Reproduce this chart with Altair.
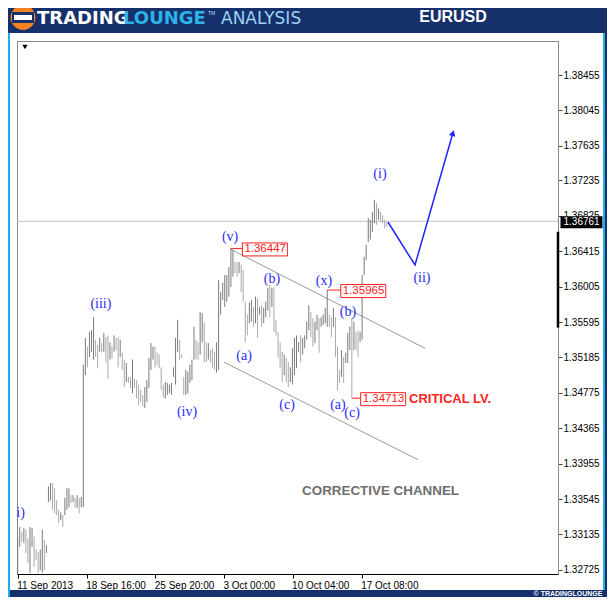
import json
import altair as alt
import pandas as pd

# ---------------- values (EURUSD, H4 bars) ----------------
high_a = [1.3311, 1.3322, 1.3316, 1.3321, 1.3319, 1.3309, 1.3322, 1.3321, 1.3311, 1.3296,
          1.3293, 1.3296, 1.3319, 1.3307, 1.3301]
low_a = [1.3269, 1.3299, 1.3305, 1.3304, 1.3292, 1.3280, 1.3269, 1.3299, 1.3276, 1.3284,
         1.3269, 1.3272, 1.3269, 1.3272, 1.3292]

high_b = [1.3369, 1.3373, 1.3373, 1.3367, 1.3353, 1.3342, 1.3339, 1.3336, 1.3356, 1.3367,
          1.3367, 1.3359, 1.3359, 1.3356, 1.3359, 1.3356, 1.3357, 1.3510]
low_b = [1.3351, 1.3353, 1.3342, 1.3338, 1.3336, 1.3327, 1.3330, 1.3322, 1.3336, 1.3342,
         1.3345, 1.3350, 1.3351, 1.3345, 1.3344, 1.3338, 1.3345, 1.3345]

high_c = [1.3541, 1.3531, 1.3548, 1.3550, 1.3565, 1.3539, 1.3533, 1.3541, 1.3535, 1.3547,
          1.3542, 1.3544, 1.3536, 1.3531, 1.3544, 1.3541, 1.3542, 1.3539, 1.3524, 1.3516,
          1.3512, 1.3496, 1.3496, 1.3516, 1.3494, 1.3492, 1.3487, 1.3481, 1.3475, 1.3484,
          1.3492, 1.3518, 1.3535, 1.3531, 1.3531, 1.3524, 1.3522, 1.3507, 1.3487, 1.3490,
          1.3489, 1.3487, 1.3489, 1.3507, 1.3541, 1.3562, 1.3539, 1.3522, 1.3496, 1.3504,
          1.3502, 1.3510, 1.3516, 1.3554, 1.3539, 1.3536, 1.3571, 1.3570, 1.3559, 1.3536,
          1.3535, 1.3527, 1.3529, 1.3525, 1.3536, 1.3608]
low_c = [1.3498, 1.3507, 1.3519, 1.3525, 1.3516, 1.3519, 1.3506, 1.3525, 1.3524, 1.3525,
         1.3513, 1.3494, 1.3516, 1.3517, 1.3525, 1.3527, 1.3507, 1.3519, 1.3504, 1.3484,
         1.3490, 1.3489, 1.3483, 1.3477, 1.3483, 1.3471, 1.3463, 1.3467, 1.3462, 1.3460,
         1.3467, 1.3483, 1.3504, 1.3516, 1.3507, 1.3510, 1.3506, 1.3481, 1.3472, 1.3471,
         1.3475, 1.3477, 1.3475, 1.3496, 1.3487, 1.3525, 1.3516, 1.3518, 1.3475, 1.3475,
         1.3477, 1.3489, 1.3492, 1.3516, 1.3516, 1.3516, 1.3522, 1.3536, 1.3513, 1.3513,
         1.3516, 1.3512, 1.3506, 1.3504, 1.3501, 1.3504]

high_d = [1.3594, 1.3605, 1.3614, 1.3614, 1.3623, 1.36447, 1.3643, 1.3629, 1.3629, 1.3629,
          1.3626, 1.3620, 1.3583, 1.3568, 1.3582, 1.3585, 1.3577, 1.3589, 1.3587, 1.3577,
          1.3579, 1.3576, 1.3583, 1.3599, 1.3602, 1.3599, 1.3600, 1.3562, 1.3548, 1.3536,
          1.3525, 1.3522, 1.3518, 1.3513, 1.3507, 1.3529, 1.3541, 1.3544, 1.3536, 1.3544,
          1.3541, 1.3544]
low_d = [1.3568, 1.3585, 1.3577, 1.3583, 1.3589, 1.3600, 1.3612, 1.3616, 1.3612, 1.3616,
         1.3594, 1.3583, 1.3536, 1.3544, 1.3558, 1.3560, 1.3554, 1.3558, 1.3541, 1.3568,
         1.3554, 1.3558, 1.3565, 1.3573, 1.3565, 1.3577, 1.3548, 1.3544, 1.3518, 1.3506,
         1.3490, 1.3498, 1.3490, 1.3484, 1.3490, 1.3487, 1.3498, 1.3506, 1.3525, 1.3513,
         1.3522, 1.3529]

high_e = [1.3560, 1.3579, 1.3571, 1.3564, 1.3560, 1.3568, 1.3564, 1.3565, 1.3568, 1.3576,
          1.35965, 1.3568, 1.3565, 1.3576, 1.3565, 1.3531, 1.3504, 1.3527, 1.3519, 1.3524,
          1.3547, 1.3554, 1.3564, 1.3560, 1.3548, 1.3550, 1.3548, 1.3614, 1.3635, 1.3649,
          1.3680, 1.3678, 1.3687, 1.3701, 1.3697, 1.3691, 1.3687, 1.3683, 1.3678, 1.3675]
low_e = [1.3539, 1.3550, 1.3542, 1.3531, 1.3535, 1.3550, 1.3524, 1.3554, 1.3556, 1.3558,
         1.3554, 1.3554, 1.3542, 1.3554, 1.3519, 1.3480, 1.3489, 1.3496, 1.3489, 1.3512,
         1.3512, 1.3527, 1.34713, 1.3527, 1.3527, 1.3519, 1.3536, 1.3539, 1.3614, 1.3631,
         1.3652, 1.3655, 1.3664, 1.3674, 1.3672, 1.3678, 1.3675, 1.3674, 1.3668, 1.3670]

x_tick_pos = [0, 33.7, 67.1, 100.6, 134.1, 167.8]
x_tick_text = ["11 Sep 2013", "18 Sep 16:00", "25 Sep 20:00", "3 Oct 00:00", "10 Oct 04:00", "17 Oct 08:00"]
y_tick_values = [1.32725, 1.33135, 1.33545, 1.33955, 1.34365, 1.34775, 1.35185, 1.35595,
                 1.36005, 1.36415, 1.36825, 1.37235, 1.37635, 1.38045, 1.38455]
last_price = 1.36761
marker_top, marker_bottom = 1.3664, 1.3553

wave_text = ["(i)", "(iii)", "(iv)", "(v)", "(a)", "(b)", "(c)", "(x)", "(b)", "(a)", "(c)", "(i)", "(ii)"]
wave_bar = [0.3, 40.6, 82.6, 103.6, 110.4, 124.0, 131.4, 149.4, 161.1, 156.2, 163.1, 176.7, 197.2]
wave_price = [1.3338, 1.3580, 1.3455, 1.3658, 1.3520, 1.3609, 1.3463, 1.3607, 1.3571, 1.3463,
              1.3454, 1.3731, 1.3610]

tag_price = [1.36447, 1.35965, 1.34713]
tag_bar = [104, 151, 163]
tag_box_bar = [109.6, 157.6, 167.3]

channel_bar_start = [103.6, 100.6]
channel_price_start = [1.3644, 1.3513]
channel_bar_end = [198.7, 195.3]
channel_price_end = [1.3529, 1.3400]

proj_bar = [180.6, 193.8, 212.3]
proj_price = [1.36753, 1.36255, 1.37783]

note_text = ["CRITICAL LV.", "CORRECTIVE CHANNEL"]
note_bar = [190.9, 177.0]
note_price = [1.3470, 1.3364]

# ---------------- layout ----------------
PLOT_W, PLOT_H = 541, 533
X_DOMAIN = [-0.34, 263.56]
Y_DOMAIN = [1.32677, 1.38849]
NAVY = "#15306b"
CYAN = "#22aee6"

highs = high_a + high_b + high_c + high_d + high_e
lows = low_a + low_b + low_c + low_d + low_e
bars_df = pd.DataFrame({"i": list(range(len(highs))), "high": highs, "low": lows})
mid = (bars_df["high"] + bars_df["low"]) / 2
bars_df["shade"] = ["up" if k == 0 or mid[k] >= mid[k - 1] else "down" for k in range(len(mid))]

xs = alt.Scale(domain=X_DOMAIN, nice=False, zero=False)
ys = alt.Scale(domain=Y_DOMAIN, nice=False, zero=False)

label_expr = f"{json.dumps(x_tick_text)}[indexof({json.dumps(x_tick_pos)}, datum.value)]"
x_axis = alt.Axis(values=x_tick_pos, labelExpr=label_expr, orient="bottom", tickSize=4,
                  tickColor="#000000", domainColor="#000000", labelAlign="left", labelFlush=False,
                  labelOverlap=False, labelFont="Liberation Sans", labelFontSize=10,
                  labelColor="#000000", labelPadding=2, labelOffset=-1, grid=False, title=None)
y_axis = alt.Axis(orient="right", values=y_tick_values, format=".5f", tickSize=4,
                  tickColor="#444444", domainColor="#888888", labelFont="Liberation Sans",
                  labelFontSize=10, labelColor="#000000", labelPadding=1, labelOverlap=False,
                  labelFlush=False, grid=False, title=None)


def X(field):
    return alt.X(field, type="quantitative", scale=xs, axis=x_axis)


def Y(field):
    return alt.Y(field, type="quantitative", scale=ys, axis=y_axis)


one = pd.DataFrame({"k": [0]})


def box(x1, x2, y1, y2, color):
    return alt.Chart(one).mark_rect(color=color).encode(
        x=alt.value(x1), x2=alt.value(x2), y=alt.value(y1), y2=alt.value(y2))


def label(txt, x, y, size, color, weight="normal", font="Liberation Sans", align="left"):
    return alt.Chart(one).mark_text(text=txt, align=align, baseline="middle", fontSize=size,
                                    fontWeight=weight, font=font, color=color).encode(
        x=alt.value(x), y=alt.value(y))


# frame decorations (header, side strips)
deco = [
    box(-17, 598, -41, -8, NAVY),
    box(-17, -7, -8, 564, CYAN),
    box(586, 588, -8, 549, CYAN),
    box(588, 598, -8, 564, NAVY),
    box(-7, 598, 549, 564, NAVY),
    alt.Chart(one).mark_point(shape="circle", size=616, filled=True, opacity=1, color="#f58220")
    .encode(x=alt.value(6), y=alt.value(-23.5)),
    box(-5, 17, -29, -18, NAVY),
    box(-3, 15, -26, -21, "#ffffff"),
    label("TRADING", 20, -22, 18, "#ffffff", weight="bold", font="DejaVu Sans"),
    label("LOUNGE", 106, -22, 18, "#2db3ea", weight="bold", font="DejaVu Sans"),
    label("TM", 191, -28, 5, "#bcdff5"),
    label("ANALYSIS", 204, -22, 17, "#9ed3f3", font="DejaVu Sans"),
    label("EURUSD", 436, -24, 16, "#ffffff", weight="bold", align="center"),
    label("© TRADINGLOUNGE", 551, 552.5, 7, "#ffffff", weight="bold", align="center"),
    alt.Chart(one).mark_point(shape="triangle-down", size=28, filled=True, opacity=1, color="#000000")
    .encode(x=alt.value(8), y=alt.value(6)),
]

price_df = pd.DataFrame({"price": [last_price], "top": [marker_top], "bottom": [marker_bottom],
                         "txt": [f"{last_price:.5f}"]})
hline = alt.Chart(price_df).mark_rule(color="#c4c4c4", strokeWidth=1).encode(y=Y("price"))

chan_df = pd.DataFrame({"x1": channel_bar_start, "y1": channel_price_start,
                        "x2": channel_bar_end, "y2": channel_price_end})
channel = alt.Chart(chan_df).mark_rule(color="#9a9a9a", strokeWidth=1).encode(
    x=X("x1"), y=Y("y1"), x2="x2", y2="y2")

bars = alt.Chart(bars_df).mark_rule(strokeWidth=1).encode(
    x=X("i"),
    y=Y("low"),
    y2="high:Q",
    color=alt.Color("shade:N", scale=alt.Scale(domain=["up", "down"], range=["#7a7a7a", "#a8a8a8"]),
                    legend=None),
)

proj_df = pd.DataFrame({"i": proj_bar, "price": proj_price, "o": list(range(len(proj_bar)))})
proj = alt.Chart(proj_df).mark_line(color="#2323ff", strokeWidth=1.5).encode(
    x=X("i"), y=Y("price"), order="o:Q")
arrow = alt.Chart(proj_df.tail(1)).mark_point(shape="triangle-up", size=45, filled=True, opacity=1,
                                              color="#2323ff", angle=16).encode(x=X("i"), y=Y("price"))

tag_df = pd.DataFrame({"price": tag_price, "bar": tag_bar, "box": tag_box_bar,
                       "txt": [f"{v:.5f}" for v in tag_price]})
leaders = alt.Chart(tag_df).mark_rule(color="#ff2020", strokeWidth=1).encode(
    x=X("bar"), x2="box", y=Y("price"))
tag_boxes = alt.Chart(tag_df).mark_point(
    shape="M-1,-0.289L1,-0.289L1,0.289L-1,0.289Z", size=2025, filled=True, fill="#ffffff",
    stroke="#ff2020", strokeWidth=1, opacity=1, xOffset=22.5, yOffset=1).encode(
    x=X("box"), y=Y("price"))
tag_text = alt.Chart(tag_df).mark_text(align="left", baseline="middle", dx=2, dy=1, fontSize=11.5,
                                       font="Liberation Sans", color="#ff1a1a").encode(
    x=X("box"), y=Y("price"), text="txt:N")

note_df = pd.DataFrame({"t": note_text, "i": note_bar, "price": note_price})
note1 = alt.Chart(note_df.head(1)).mark_text(align="left", baseline="middle", fontSize=13,
                                             fontWeight="bold", font="Liberation Sans",
                                             color="#ff2222").encode(x=X("i"), y=Y("price"), text="t:N")
note2 = alt.Chart(note_df.tail(1)).mark_text(align="center", baseline="middle", fontSize=13.4,
                                             fontWeight="bold", font="Liberation Sans",
                                             color="#6e6e6e").encode(x=X("i"), y=Y("price"), text="t:N")

wave_df = pd.DataFrame({"t": wave_text, "i": wave_bar, "price": wave_price})
waves = alt.Chart(wave_df).mark_text(align="center", baseline="middle", fontSize=14,
                                     font="Liberation Serif", color="#2b2bff", clip=True).encode(
    x=X("i"), y=Y("price"), text="t:N")

price_box = alt.Chart(price_df).mark_point(
    shape="M-1,-0.286L1,-0.286L1,0.286L-1,0.286Z", size=1764, filled=True, opacity=1,
    color="#000000", yOffset=1).encode(x=alt.value(564.5), y=Y("price"))
price_txt = alt.Chart(price_df).mark_text(align="left", baseline="middle", dy=1, fontSize=10,
                                          font="Liberation Sans", color="#ffffff").encode(
    x=alt.value(546.5), y=Y("price"), text="txt:N")
marker = alt.Chart(price_df).mark_rule(color="#000000", strokeWidth=2.5).encode(
    x=alt.value(541), y=Y("top"), y2="bottom")

chart = alt.layer(
    *deco, hline, channel, bars, proj, arrow, leaders, tag_boxes, tag_text, note1, note2, waves,
    marker, price_box, price_txt,
).properties(
    width=PLOT_W, height=PLOT_H,
    padding={"left": 9, "top": 33, "right": 49, "bottom": 23},
    autosize=alt.AutoSizeParams(type="none"),
    background="#ffffff",
).configure_view(stroke="#888888", strokeWidth=1)

chart.save("out.html", embed_options={"renderer": "svg", "actions": False})
